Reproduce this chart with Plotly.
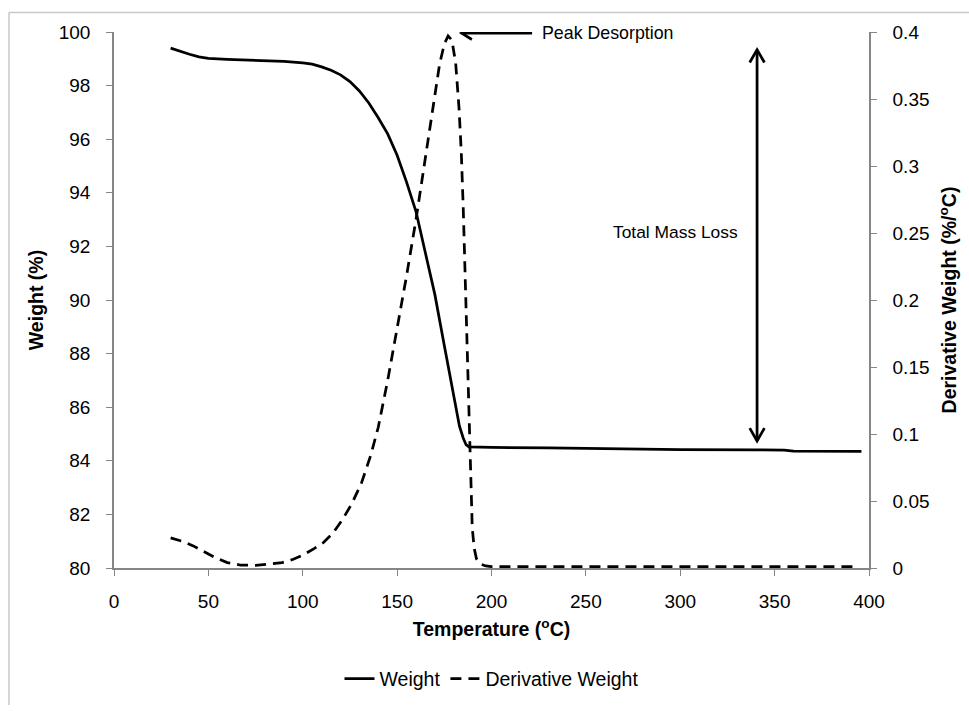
import plotly.graph_objects as go

# ---- data ----
temp_weight = [30, 35, 40, 45, 50, 60, 70, 80, 90, 100, 105, 110, 115, 120, 125, 130, 135,
               140, 145, 150, 155, 160, 165, 170, 175, 180, 183, 185, 186.5, 188, 200, 230,
               250, 280, 300, 340, 355, 360, 396]
weight = [99.4, 99.28, 99.17, 99.07, 99.02, 98.98, 98.96, 98.94, 98.9, 98.85, 98.8, 98.7,
          98.57, 98.4, 98.15, 97.8, 97.35, 96.8, 96.2, 95.4, 94.4, 93.3, 91.8, 90.2, 88.3,
          86.4, 85.3, 84.85, 84.6, 84.52, 84.5, 84.48, 84.46, 84.44, 84.42, 84.41, 84.4,
          84.36, 84.35]

temp_deriv = [30, 36, 42, 48, 54, 60, 67, 75, 82, 89, 95, 100, 106, 111, 116, 121, 126, 131,
              136, 140, 145, 150, 155, 160, 165, 169, 172.5, 175, 177, 179, 181, 182.8, 184,
              185, 186, 187, 187.7, 188.3, 189, 189.8, 190.8, 192, 194, 197, 200, 250, 300,
              350, 394]
deriv = [0.0225, 0.02, 0.0165, 0.012, 0.0075, 0.004, 0.0022, 0.002, 0.003, 0.004, 0.0065,
         0.0095, 0.0145, 0.019, 0.026, 0.036, 0.048, 0.063, 0.084, 0.105, 0.14, 0.178, 0.218,
         0.26, 0.305, 0.343, 0.376, 0.391, 0.397, 0.394, 0.377, 0.343, 0.31, 0.27, 0.22,
         0.175, 0.14, 0.10, 0.06, 0.03, 0.015, 0.007, 0.003, 0.0015, 0.001, 0.001, 0.001,
         0.001, 0.001]

x_ticks = [0, 50, 100, 150, 200, 250, 300, 350, 400]
y_ticks = [80, 82, 84, 86, 88, 90, 92, 94, 96, 98, 100]
y2_ticks = [0, 0.05, 0.1, 0.15, 0.2, 0.25, 0.3, 0.35, 0.4]
y2_labels = ["0", "0.05", "0.1", "0.15", "0.2", "0.25", "0.3", "0.35", "0.4"]

# annotation anchor points (data units)
peak_arrow_tip = (184.1, 99.96)
peak_arrow_tail = (221.5, 99.96)
mass_arrow_x = 340.7
mass_arrow_top = 99.34
mass_arrow_bottom = 84.74

FONT = "Liberation Sans, Arial, sans-serif"
AXIS_COLOR = "#868686"

fig = go.Figure()
fig.add_trace(go.Scatter(x=temp_weight, y=weight, name="Weight", mode="lines",
                         line=dict(color="black", width=2.75), yaxis="y"))
fig.add_trace(go.Scatter(x=temp_deriv, y=deriv, name="Derivative Weight", mode="lines",
                         line=dict(color="black", width=2.75, dash="11px,7px"),
                         yaxis="y2"))

axis_common = dict(showgrid=False, zeroline=False, showline=True, linecolor=AXIS_COLOR,
                   linewidth=1.5, ticks="outside", tickcolor=AXIS_COLOR, ticklen=6,
                   tickwidth=1, tickfont=dict(family=FONT, size=19, color="black"))

fig.update_layout(
    width=969, height=711,
    margin=dict(l=114, r=100, t=32, b=131),
    paper_bgcolor="white", plot_bgcolor="white",
    font=dict(family=FONT, color="black"),
    xaxis=dict(range=[0, 400], tickvals=x_ticks, ticklabelstandoff=9,
               title=dict(text="<b>Temperature (<sup>o</sup>C)</b>",
                          font=dict(family=FONT, size=19.5), standoff=12),
               **axis_common),
    yaxis=dict(range=[80, 100], tickvals=y_ticks, ticklabelstandoff=12,
               title=dict(text="<b>Weight (%)</b>", font=dict(family=FONT, size=19.5),
                          standoff=10),
               **axis_common),
    yaxis2=dict(range=[0, 0.4], tickvals=y2_ticks, ticktext=y2_labels, overlaying="y",
                side="right", ticklabelstandoff=12,
                title=dict(text="<b>Derivative Weight (%/<sup>o</sup>C)</b>",
                           font=dict(family=FONT, size=19.5), standoff=14),
                **axis_common),
    legend=dict(orientation="h", x=0.5, xanchor="center", y=-0.207, yanchor="middle",
                font=dict(family=FONT, size=19.5), bgcolor="rgba(0,0,0,0)",
                itemwidth=30),
    showlegend=True,
)

# chart border (light grey frame)
px_x = lambda p: (p - 114) / 755.0
px_y = lambda p: (580 - p) / 548.0
fig.add_shape(type="line", xref="paper", yref="paper", x0=px_x(9), x1=px_x(975),
              y0=px_y(12), y1=px_y(12), line=dict(color="#c8c8c8", width=1.5))
fig.add_shape(type="line", xref="paper", yref="paper", x0=px_x(9), x1=px_x(9),
              y0=px_y(12), y1=px_y(720), line=dict(color="#c8c8c8", width=1.5))

arrow_line = dict(color="black", width=2.75)
# Peak desorption arrow (pointing left)
tx, ty = peak_arrow_tip
fig.add_shape(type="line", xref="x", yref="y", x0=peak_arrow_tail[0], y0=ty, x1=tx, y1=ty,
              line=arrow_line)
fig.add_shape(type="path", xref="x", yref="y",
              path=f"M {tx + 5.5},{ty + 0.24} L {tx},{ty} L {tx + 5.5},{ty - 0.24}",
              line=arrow_line)
fig.add_annotation(x=(540 - 114) / 1.8875, y=ty, xref="x", yref="y", text="Peak Desorption",
                   showarrow=False, xanchor="left", yanchor="middle",
                   font=dict(family=FONT, size=17.8, color="black"))

# Total mass loss double arrow
mx = mass_arrow_x
fig.add_shape(type="line", xref="x", yref="y", x0=mx, x1=mx, y0=mass_arrow_bottom,
              y1=mass_arrow_top, line=arrow_line)
fig.add_shape(type="path", xref="x", yref="y",
              path=f"M {mx - 3.9},{mass_arrow_top - 0.48} L {mx},{mass_arrow_top} "
                   f"L {mx + 3.9},{mass_arrow_top - 0.48}",
              line=arrow_line)
fig.add_shape(type="path", xref="x", yref="y",
              path=f"M {mx - 3.9},{mass_arrow_bottom + 0.48} L {mx},{mass_arrow_bottom} "
                   f"L {mx + 3.9},{mass_arrow_bottom + 0.48}",
              line=arrow_line)
fig.add_annotation(x=297.7, y=92.55, xref="x", yref="y", text="Total Mass Loss",
                   showarrow=False, xanchor="center", yanchor="middle",
                   font=dict(family=FONT, size=17.4, color="black"))

fig.write_html("out.html")
